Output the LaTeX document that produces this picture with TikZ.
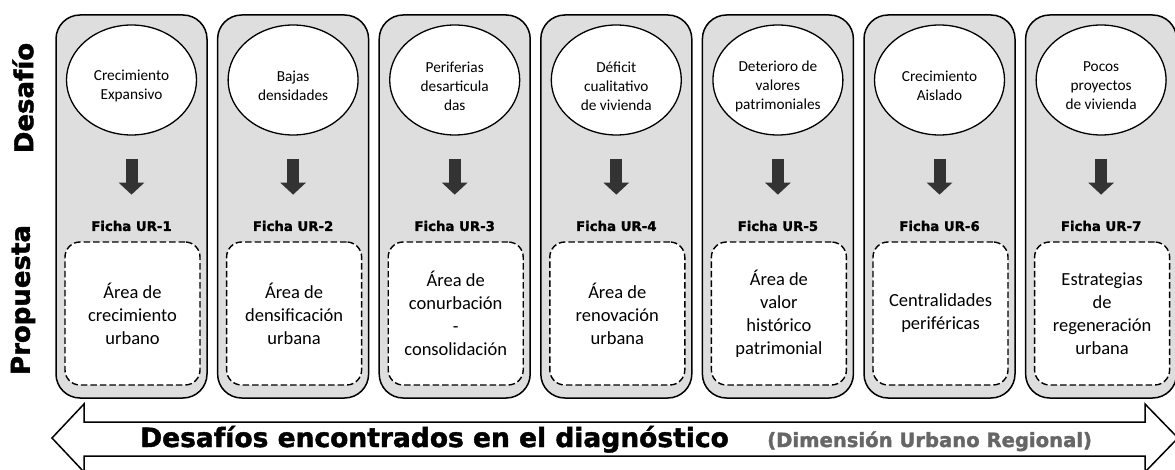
\documentclass[tikz,border=0pt]{standalone}
\usepackage{fontspec}
\setmainfont{Carlito}
\newfontfamily\heavyfont{DejaVu Sans}[BoldFeatures={FakeBold=1.6}]
\usepackage{tikz}
\usetikzlibrary{shapes.geometric, arrows.meta}
\colorlet{panel_fill}{black!13}
\colorlet{panel_line}{black}
\colorlet{fat_arrow}{black!80}
\colorlet{sub_text}{black!60}

\begin{document}
\begin{tikzpicture}[
    x=1pt, y=-1pt,
    panel/.style={draw=panel_line, line width=1.5pt, fill=panel_fill, rounded corners=24pt,
      minimum width=151pt, minimum height=383pt},
    challenge/.style={ellipse, draw, line width=1.3pt, fill=white,
      minimum width=130pt, minimum height=110pt},
    challenge-text/.style={align=center, inner sep=0pt, font=\fontsize{15.3}{19}\selectfont},
    ficha/.style={inner sep=0pt, font=\heavyfont\bfseries\fontsize{13.3}{16}\selectfont},
    proposal/.style={draw, line width=1.4pt, dash pattern=on 6.5pt off 3pt, fill=white,
      rounded corners=15pt, minimum width=135pt, minimum height=143pt, align=center,
      font=\fontsize{18.5}{23}\selectfont},
    fat-arrow/.style={draw=fat_arrow, line width=12pt, -{Triangle[width=25pt,length=12pt]}},
    side-label/.style={rotate=90, inner sep=0pt, font=\heavyfont\bfseries\fontsize{26}{30}\selectfont},
    title-text/.style={inner sep=0pt, font=\heavyfont\bfseries\fontsize{26.5}{30}\selectfont},
    sub-text/.style={inner sep=0pt, text=sub_text, font=\heavyfont\bfseries\fontsize{19.6}{24}\selectfont},
  ]
  \useasboundingbox (0,0) rectangle (1175,470);

  %%%%%%%%%% Side labels %%%%%%%%%%
  \node[side-label] (desafio) at (23,98) {Desafío};
  \node[side-label] (propuesta) at (23,300) {Propuesta};

  %%%%%%%%%% Panels %%%%%%%%%%
  \foreach \i in {1,...,7} {
    \node[panel] (p\i) at ({131.5+161.6*(\i-1)},206.5) {};
    \node[challenge] (c\i) at ({131.5+161.6*(\i-1)},80) {};
    \node[ficha] (f\i) at ({131.5+161.6*(\i-1)},226) {Ficha UR-\i};
    \draw[fat-arrow, shorten <=23pt, shorten >=26pt] (c\i.south) -- (f\i.north);
  }

  %%%%%%%%%% Challenges %%%%%%%%%%
  \node[challenge-text] (t1) at ([yshift=-6pt]c1.center) {Crecimiento\\Expansivo};
  \node[challenge-text] (t2) at ([yshift=-6pt]c2.center) {Bajas\\densidades};
  \node[challenge-text] (t3) at ([yshift=-6pt]c3.center) {Periferias\\desarticula\\das};
  \node[challenge-text] (t4) at ([yshift=-6pt]c4.center) {Déficit\\cualitativo\\de vivienda};
  \node[challenge-text] (t5) at ([yshift=-6pt]c5.center) {Deterioro de\\valores\\patrimoniales};
  \node[challenge-text] (t6) at ([yshift=-6pt]c6.center) {Crecimiento\\Aislado};
  \node[challenge-text] (t7) at ([yshift=-6pt]c7.center) {Pocos\\proyectos\\de vivienda};

  %%%%%%%%%% Proposals %%%%%%%%%%
  \node[proposal] (b1) at (132.5,313.5) {Área de\\crecimiento\\urbano};
  \node[proposal] (b2) at (294.1,313.5) {Área de\\densificación\\urbana};
  \node[proposal] (b3) at (455.7,313.5) {Área de\\conurbación\\{-}\\consolidación};
  \node[proposal] (b4) at (617.3,313.5) {Área de\\renovación\\urbana};
  \node[proposal] (b5) at (778.9,313.5) {Área de\\valor\\histórico\\patrimonial};
  \node[proposal] (b6) at (940.5,313.5) {Centralidades\\periféricas};
  \node[proposal] (b7) at (1102.1,313.5) {Estrategias\\de\\regeneración\\urbana};

  %%%%%%%%%% Bottom double arrow %%%%%%%%%%
  \draw[line width=1.5pt, fill=white, line join=miter]
    (52,438) -- (84,404) -- (84,422) -- (1145,422) -- (1145,404) -- (1178,438)
    -- (1145,472) -- (1145,456) -- (84,456) -- (84,472) -- cycle;
  \node[title-text, anchor=base west] (diag) at (140,447) {Desafíos encontrados en el diagnóstico};
  \node[sub-text, anchor=base west] (dim) at (767,447) {(Dimensión Urbano Regional)};

\end{tikzpicture}
\end{document}
